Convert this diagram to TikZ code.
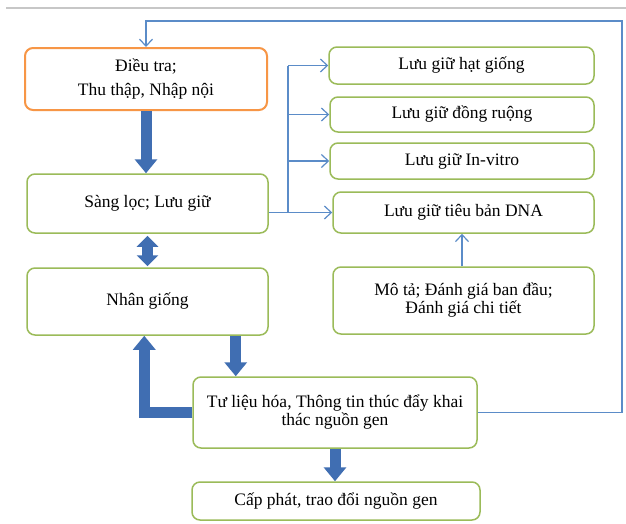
\documentclass[tikz,border=0pt]{standalone}
\usepackage{fontspec}
\setmainfont{Liberation Serif}
\usetikzlibrary{arrows.meta,calc}
\definecolor{boxgreen}{RGB}{155,187,89}
\definecolor{boxorange}{RGB}{247,150,70}
\definecolor{arrowblue}{RGB}{64,110,178}
\definecolor{lineblue}{RGB}{91,140,200}
\begin{document}
\begin{tikzpicture}[x=1pt,y=-1pt,
  box/.style={draw=boxgreen, line width=1.5pt, rounded corners=8pt, align=center,
    font=\fontsize{17.5}{18}\selectfont, inner sep=0pt, fill=white},
  obox/.style={box, draw=boxorange, line width=2pt},
  bigarrow/.style={draw=arrowblue, line width=11pt, line join=miter,
    -{Triangle[length=14pt,width=22pt]}},
  dblarrow/.style={draw=arrowblue, line width=11pt,
    {Triangle[length=11pt,width=21pt]}-{Triangle[length=11pt,width=21pt]}},
  thinarrow/.style={draw=lineblue, line width=1.2pt,
    -{Straight Barb[length=7pt,width=13pt]}},
  thinline/.style={draw=lineblue, line width=1.2pt}]
\useasboundingbox (0,0) rectangle (626,523);
\fill[white] (0,0) rectangle (626,523);
\draw[black!22, line width=2pt] (6,8) -- (626,8);

% left column
\node[obox, minimum width=242pt, minimum height=62pt, font=\fontsize{17.5}{21}\selectfont] (b1) at (146,79) {\raisebox{-3pt}{\begin{tabular}{@{}c@{}}Điều tra;\\[3pt]Thu thập, Nhập nội\end{tabular}}};
\node[box, minimum width=241pt, minimum height=59pt] (b2) at (147.5,203.5) {Sàng lọc; Lưu giữ};
\node[box, minimum width=241pt, minimum height=67pt] (b3) at (147.5,301.5) {Nhân giống};
\node[box, minimum width=284pt, minimum height=71pt] (b4) at (335,412.5) {Tư liệu hóa, Thông tin thúc đẩy khai\\thác nguồn gen};
\node[box, minimum width=288pt, minimum height=38pt] (b5) at (336,501) {Cấp phát, trao đổi nguồn gen};

% right column
\node[box, minimum width=265pt, minimum height=37pt] (r1) at (461.5,65.5) {Lưu giữ hạt giống};
\node[box, minimum width=264pt, minimum height=35pt] (r2) at (462,114.5) {Lưu giữ đồng ruộng};
\node[box, minimum width=264pt, minimum height=36pt] (r3) at (462,161) {Lưu giữ In-vitro};
\node[box, minimum width=261pt, minimum height=41pt] (r4) at (463.5,212.5) {Lưu giữ tiêu bản DNA};
\node[box, minimum width=261pt, minimum height=67pt] (r5) at (463.5,300.5) {Mô tả; Đánh giá ban đầu;\\Đánh giá chi tiết};

% thin connectors
\coordinate (j) at (288,212.5);
\draw[thinline] (b2.east |- r4.west) -- (j);
\draw[thinline] (j |- r1.west) -- (j);
\draw[thinarrow] (j |- r1.west) -- (r1.west);
\draw[thinarrow] (j |- r2.west) -- (r2.west);
\draw[thinarrow] (j |- r3.west) -- (r3.west);
\draw[thinarrow] (j) -- (r4.west);
\draw[thinarrow] (r5.north -| 462,0) -- (r4.south -| 462,0);
\coordinate (fbR) at (622,412.5);
\coordinate (fbT) at (622,21);
\draw[thinarrow] (b4.east) -- (fbR) -- (fbT) -- (b1.north |- fbT) -- (b1.north);

% thick arrows
\draw[bigarrow] (b1.south) -- (b1.south |- b2.north);
\draw[dblarrow] ($(b2.south)+(0,2)$) -- ($(b3.north)+(0,-1)$);
\coordinate (d1) at ($(b3.south east)+(-33,0)$);
\draw[bigarrow] (d1) -- (d1 |- b4.north);
\coordinate (u1) at ($(b3.south west)+(118,0)$);
\draw[bigarrow] (b4.west) -| (u1);
\draw[bigarrow] (b4.south) -- (b4.south |- b5.north);
\end{tikzpicture}
\end{document}
